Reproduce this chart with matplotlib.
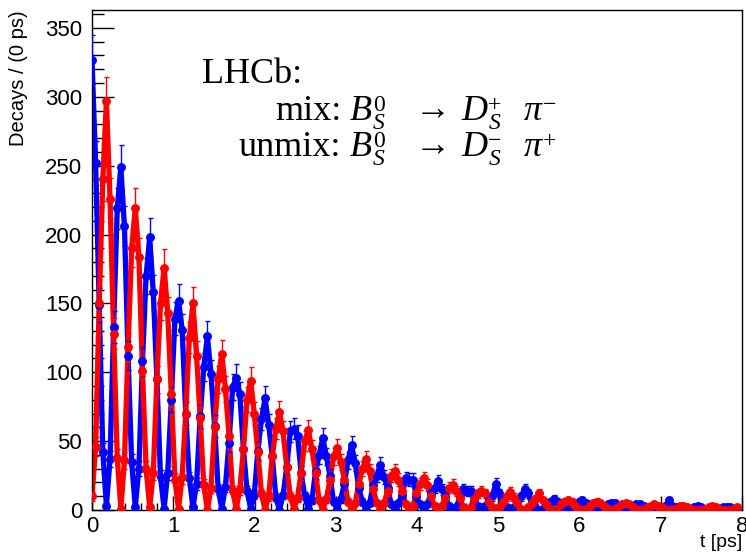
import numpy as np
import matplotlib
matplotlib.use("Agg")
import matplotlib.pyplot as plt
from matplotlib.ticker import MultipleLocator
from matplotlib.transforms import IdentityTransform

# ---- data (estimated bin contents, bin width = 1/8 of an oscillation period) ----
bin_width = 0.355 / 8  # ps

unmix_counts = [
    327, 252, 149, 42, 3, 37, 133, 219,
    249, 206, 112, 35, 2, 30, 108, 170,
    198, 158, 95, 24, 1, 27, 80, 139,
    152, 131, 70, 23, 2, 19, 68, 104,
    126, 99, 61, 15, 1, 17, 49, 89,
    96, 84, 44, 14, 1, 11, 43, 66,
    81, 62, 39, 9, 0, 11, 31, 57,
    59, 54, 27, 10, 1, 7, 28, 40,
    52, 39, 25, 6, 1, 8, 19, 36,
    47, 34, 16, 6, 0, 5, 18, 25,
    33, 24, 16, 4, 1, 5, 11, 23,
    22, 22, 10, 4, 0, 4, 12, 16,
    21, 15, 10, 3, 1, 2, 9, 15,
    14, 14, 6, 3, 0, 3, 7, 10,
    19, 12, 7, 2, 1, 2, 5, 10,
    15, 12, 4, 2, 0, 1, 5, 6,
    8, 6, 5, 1, 1, 2, 3, 6,
    7, 5, 3, 1, 0, 1, 3, 4,
    5, 5, 2, 1, 0, 1, 2, 4,
    4, 3, 2, 1, 0, 1, 2, 3,
    7, 3, 2, 0, 0, 1, 1, 2,
    3, 2, 1, 0, 0, 0, 1, 2,
    2, 2, 1, 0,
]

mix_counts = [
    10, 46, 150, 240, 297, 226, 128, 38,
    1, 36, 118, 190, 219, 184, 101, 30,
    2, 27, 95, 150, 176, 143, 84, 22,
    1, 24, 70, 125, 150, 112, 67, 18,
    0, 16, 60, 95, 113, 88, 54, 14,
    1, 15, 44, 80, 94, 70, 42, 12,
    0, 10, 39, 59, 71, 57, 31, 10,
    1, 9, 27, 50, 58, 44, 27, 7,
    0, 8, 22, 39, 45, 35, 22, 6,
    1, 5, 19, 30, 37, 28, 15, 5,
    0, 5, 14, 25, 28, 22, 14, 4,
    1, 3, 12, 19, 23, 18, 10, 3,
    0, 3, 9, 16, 18, 14, 9, 2,
    1, 2, 8, 12, 14, 12, 6, 2,
    0, 2, 6, 10, 13, 9, 5, 1,
    0, 2, 5, 8, 12, 7, 4, 1,
    0, 1, 4, 6, 7, 6, 3, 1,
    0, 1, 3, 5, 6, 5, 3, 1,
    0, 1, 2, 4, 5, 4, 2, 1,
    0, 1, 2, 3, 4, 3, 2, 0,
    0, 1, 1, 3, 3, 2, 1, 0,
    0, 0, 1, 2, 3, 2, 1, 0,
    0, 0, 1, 2,
]

x_label = "t [ps]"
y_label = "Decays / (0 ps)"
header = "LHCb:"
mix_prefix = "mix:"
unmix_prefix = "unmix:"
# (main symbol, subscript, superscript) groups of each decay
mix_decay = [("B", "S", "0"), ("\u2192", "", ""), ("D", "S", "+"), ("\u03c0", "", "\u2212")]
unmix_decay = [("B", "S", "0"), ("\u2192", "", ""), ("D", "S", "\u2212"), ("\u03c0", "", "+")]

# ---- plotting ----
plt.rcParams['font.family'] = ['Liberation Sans', 'DejaVu Sans']

W, H = 746, 556
fig = plt.figure(figsize=(W / 100, H / 100), dpi=100)
ax = fig.add_axes([92/W, 46/H, 650/W, 500/H])

unmix = np.array(unmix_counts, dtype=float)
mix = np.array(mix_counts, dtype=float)
t_u = np.arange(len(unmix)) * bin_width
t_m = np.arange(len(mix)) * bin_width

for t, y, col in [(t_u, unmix, '#0000ff'), (t_m, mix, '#ff0000')]:
    ax.plot(t, y, color=col, lw=3.8, solid_joinstyle='round', zorder=2)
    ax.errorbar(t, y, yerr=np.sqrt(y), fmt='o', color=col, ms=5.4,
                ecolor=col, elinewidth=1.0, capsize=1.8, capthick=1.0,
                zorder=3)

ax.set_xlim(0, 8)
ax.set_ylim(0, 363)

ax.xaxis.set_major_locator(MultipleLocator(1))
ax.xaxis.set_minor_locator(MultipleLocator(0.2))
ax.yaxis.set_major_locator(MultipleLocator(50))
ax.yaxis.set_minor_locator(MultipleLocator(10))

ax.tick_params(axis='x', which='major', direction='in', length=10, width=1,
               labelsize=16, pad=4, top=False)
ax.tick_params(axis='x', which='minor', direction='in', length=5, width=1, top=False)
ax.tick_params(axis='y', which='major', direction='in', length=16, width=1,
               labelsize=16, pad=7, right=False)
ax.tick_params(axis='y', which='minor', direction='in', length=8.5, width=1, right=False)

for s in ax.spines.values():
    s.set_linewidth(1.0)
    s.set_color('black')

ax.set_xlabel(x_label, fontsize=14, loc='right')
ax.set_ylabel(y_label, fontsize=14.5, loc='top')
ax.yaxis.set_label_coords(-0.098, 1.0)
ax.xaxis.set_label_coords(1.0, -0.048)

# ---- annotation block (serif text with hand-set sub/superscripts) ----
serif = ['Liberation Serif', 'DejaVu Serif']
renderer = fig.canvas.get_renderer()
BIG, SMALL = 26, 17
SUP_DY, SUB_DY = 9, -9
GAPS = [30, 10, 22, 0]   # pixel gaps after each group


def ptext(x, ybase, s, size, style='normal', ha='left'):
    return fig.text(x, H - ybase, s, fontsize=size, family=serif, style=style,
                    ha=ha, va='baseline', transform=IdentityTransform())


def width(txt):
    return txt.get_window_extent(renderer=renderer).width


def decay_line(prefix, groups, x_start, ybase):
    ptext(x_start - 9, ybase, prefix, BIG, ha='right')
    x = x_start
    for (main, sub, sup), gap in zip(groups, GAPS):
        style = 'normal' if main == "\u2192" else 'italic'
        m = ptext(x, ybase, main, BIG, style)
        x += width(m)
        ws = 0
        if sub:
            t1 = ptext(x + 1, ybase - SUB_DY, sub, SMALL, 'italic')
            ws = max(ws, width(t1) + 1)
        if sup:
            t2 = ptext(x + 1, ybase - SUP_DY, sup, SMALL, 'normal')
            ws = max(ws, width(t2) + 1)
        x += ws + gap


ptext(202, 83, header, BIG)
decay_line(mix_prefix, mix_decay, 350, 120)
decay_line(unmix_prefix, unmix_decay, 350, 156)

fig.savefig("out.png", dpi=100)
